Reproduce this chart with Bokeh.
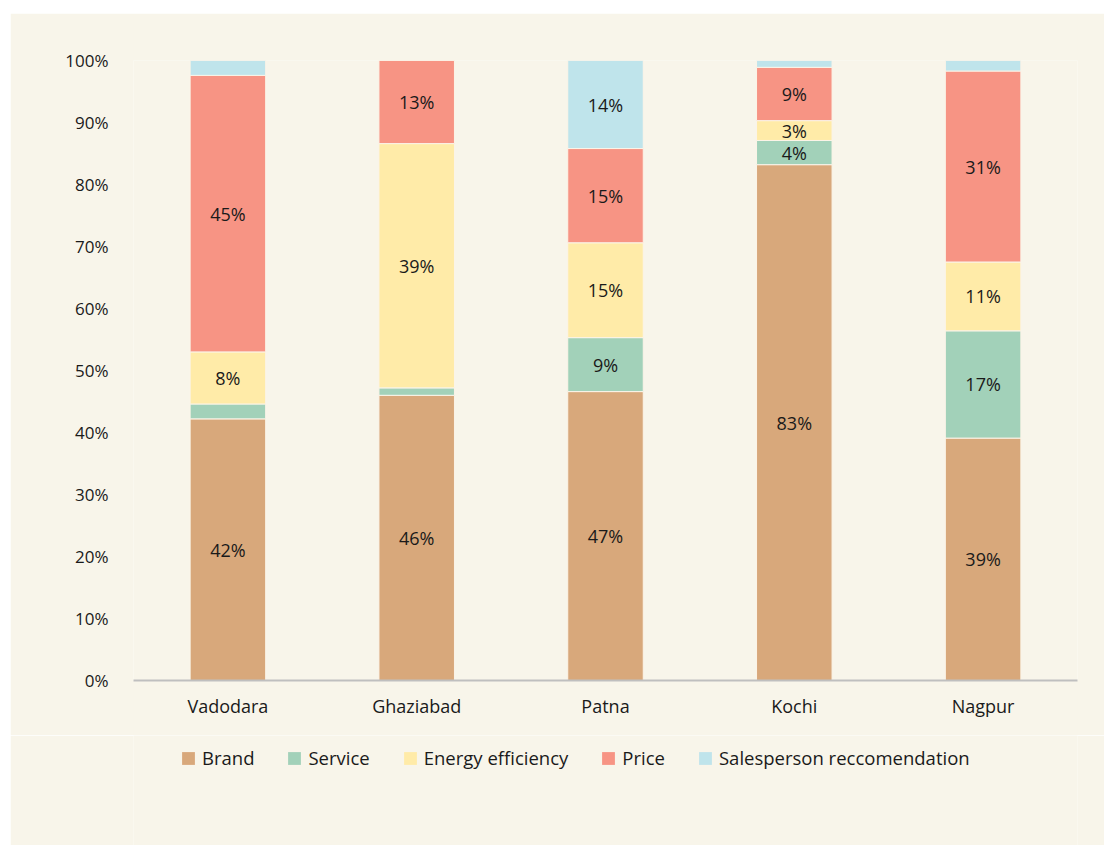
from bokeh.plotting import figure
from bokeh.layouts import column
from bokeh.models import ColumnDataSource, FactorRange, Legend, LegendItem, FixedTicker
from bokeh.core.properties import value
from bokeh.embed import file_html
from bokeh.resources import INLINE

cities = ["Vadodara", "Ghaziabad", "Patna", "Kochi", "Nagpur"]
series = ["Brand", "Service", "Energy efficiency", "Price", "Salesperson reccomendation"]
brand = [42.2, 46.0, 46.6, 83.2, 39.1]
service = [2.4, 1.2, 8.7, 3.9, 17.3]
energy = [8.4, 39.4, 15.3, 3.2, 11.1]
price = [44.6, 13.4, 15.2, 8.6, 30.8]
sales = [2.4, 0.0, 14.2, 1.1, 1.7]
colors = ["#D8A87B", "#A2D1B9", "#FFEBA8", "#F79484", "#BFE4EB"]
y_ticks = [0, 10, 20, 30, 40, 50, 60, 70, 80, 90, 100]

BG = "#F8F5EA"
FONT = "Open Sans"
TXT = "#1A1A1A"

keys = ["brand", "service", "energy", "price", "sales"]
data = dict(city=cities, brand=brand, service=service, energy=energy, price=price, sales=sales)
src = ColumnDataSource(data)

p = figure(x_range=FactorRange(*cities, range_padding=0), y_range=(0, 100),
           width=1094, height=722, output_backend="svg", toolbar_location=None,
           background_fill_color=BG, border_fill_color=BG, outline_line_color=None,
           min_border_left=123, min_border_right=27, min_border_top=47, min_border_bottom=55)

renderers = p.vbar_stack(keys, x="city", width=0.4, color=colors, source=src,
                         line_color="#FBF4E8", line_width=1)

# data labels
lx, ly, lt = [], [], []
series_vals = [brand, service, energy, price, sales]
for i, c in enumerate(cities):
    base = 0.0
    for vals in series_vals:
        v = vals[i]
        if v >= 3:
            lx.append(c)
            ly.append(base + v / 2)
            lt.append(f"{int(v + 0.5)}%")
        base += v
lab_src = ColumnDataSource(dict(x=lx, y=ly, t=lt))
p.text(x="x", y="y", text="t", source=lab_src, text_align="center", text_baseline="middle",
       text_font=value(FONT), text_font_size="18px", text_color=TXT)

p.xgrid.visible = False
p.ygrid.visible = False

p.yaxis.ticker = FixedTicker(ticks=y_ticks)
p.yaxis.major_label_overrides = {t: f"{t}%" for t in y_ticks}
p.yaxis.axis_line_color = None
p.yaxis.major_tick_line_color = None
p.yaxis.minor_tick_line_color = None
p.yaxis.major_tick_out = 0
p.yaxis.major_label_standoff = 25
p.yaxis.major_label_text_font = FONT
p.yaxis.major_label_text_font_size = "17px"
p.yaxis.major_label_text_color = TXT

p.xaxis.axis_line_color = "#BFBFBF"
p.xaxis.axis_line_width = 2
p.xaxis.major_tick_line_color = None
p.xaxis.minor_tick_line_color = None
p.xaxis.major_tick_out = 0
p.xaxis.major_label_standoff = 13
p.xaxis.major_label_text_font = FONT
p.xaxis.major_label_text_font_size = "18px"
p.xaxis.major_label_text_color = TXT

# legend strip
p2 = figure(width=1094, height=110, output_backend="svg", toolbar_location=None,
            x_range=(0, 1), y_range=(0, 1), x_axis_location=None, y_axis_location=None,
            background_fill_color=BG, border_fill_color=BG, outline_line_color=None,
            min_border=0)
p2.xgrid.visible = False
p2.ygrid.visible = False
dummies = [p2.rect(x=[-5], y=[-5], width=0.01, height=0.01, fill_color=c, line_color=None)
           for c in colors]
items = [LegendItem(label=s, renderers=[r]) for s, r in zip(series, dummies)]
legend = Legend(items=items, orientation="horizontal", location=(47, 75),
                background_fill_alpha=0, border_line_color=None,
                label_text_font=FONT, label_text_font_size="18.5px", label_text_color=TXT,
                glyph_width=16, glyph_height=16, label_standoff=6, spacing=32,
                margin=0, padding=0)
p2.add_layout(legend, "center")

layout = column(p, p2, spacing=0, margin=(13, 0, 0, 10))

open("out.html", "w").write(file_html(layout, INLINE))
